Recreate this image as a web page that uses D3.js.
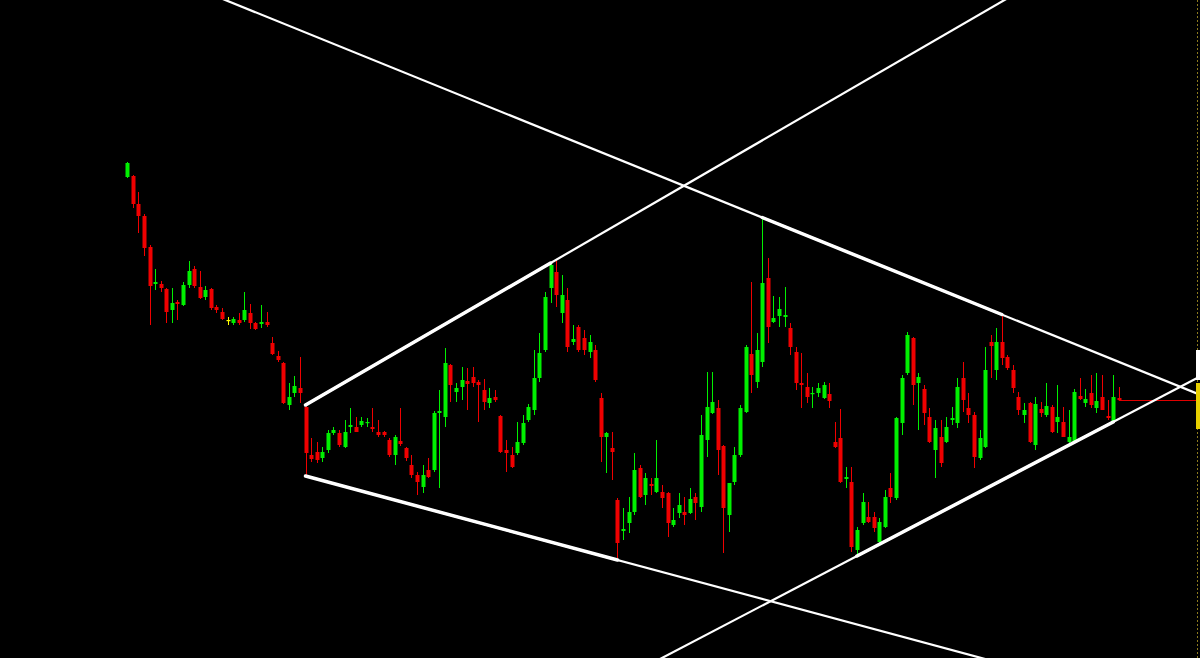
<!DOCTYPE html>
<html>
<head>
<meta charset="utf-8">
<script src="https://cdn.jsdelivr.net/npm/d3@7"></script>
<style>
html,body{margin:0;padding:0;background:#000;overflow:hidden;}
svg{display:block;}
</style>
</head>
<body>
<svg id="chart" width="1200" height="658"></svg>
<script>
// OHLC values (arbitrary price units), one entry per bar
const open  = [523,524,496,484,453,416,416,411,390,398,395,415,431,413,403,411,393,388,380,377,380,380,387,377,376,378,357,344,337,295,307,312,293,245,248,242,250,267,267,253,273,273,275,277,273,268,268,260,245,259,252,235,225,213,230,230,287,283,335,308,313,319,323,318,310,297,303,284,250,245,247,257,280,290,322,350,412,428,387,400,358,373,362,348,350,302,263,252,200,169,177,188,232,205,216,208,208,207,175,187,188,187,203,193,260,287,292,254,185,218,245,288,346,318,338,422,378,384,383,372,348,317,313,306,307,302,306,258,262,221,218,150,177,183,183,158,173,212,202,277,327,362,317,311,283,250,263,258,280,277,322,292,285,242,253,358,330,358,343,330,303,285,297,255,291,285,293,278,278,258,258,304,297,307,292,303,284,278,302];
const high  = [538,525,508,486,455,431,419,412,412,400,418,439,434,429,414,412,395,392,383,383,387,408,396,378,395,388,363,349,338,317,324,343,295,262,258,253,270,273,270,280,292,283,283,282,292,280,269,262,265,292,253,245,228,235,242,289,310,352,336,317,333,332,333,320,321,312,310,285,260,253,278,285,296,350,367,408,438,440,425,412,375,375,370,365,355,307,268,268,202,192,203,247,235,227,222,260,215,208,192,207,203,212,207,285,328,328,300,255,217,253,295,355,418,367,483,442,404,403,413,377,353,347,327,313,317,318,317,278,291,233,233,173,207,198,188,182,210,227,283,325,368,363,327,315,292,280,280,283,293,322,338,307,288,270,353,365,372,385,345,335,308,297,298,303,298,317,295,315,293,290,311,322,311,325,327,325,300,325,313];
const low   = [522,492,467,444,375,410,408,377,377,380,394,412,412,401,400,390,387,380,375,375,375,378,371,370,372,373,345,338,296,290,303,297,223,238,237,238,247,265,253,252,267,268,273,273,268,263,263,243,235,254,239,222,205,207,222,228,212,273,298,298,300,290,313,278,290,292,298,247,228,232,245,255,278,285,318,348,397,393,377,348,355,348,345,342,318,238,227,220,142,160,167,185,202,195,205,207,192,163,173,182,175,186,180,188,243,286,225,147,168,215,243,287,307,312,333,357,377,373,373,345,310,292,297,292,303,301,292,252,217,212,148,145,175,177,168,157,172,197,200,265,325,295,270,275,257,222,233,257,275,272,288,277,232,240,252,322,320,335,330,307,285,277,257,250,283,283,267,267,263,257,257,300,293,292,287,290,280,277,300];
const close = [537,496,484,452,414,418,412,388,397,396,415,429,414,402,410,392,390,381,380,381,377,390,377,371,378,375,346,340,297,303,314,307,247,241,240,248,267,270,255,268,275,268,279,278,271,265,265,245,263,256,242,225,218,225,223,287,289,337,315,312,320,316,317,315,298,302,300,248,247,233,258,277,293,322,347,403,435,405,405,353,361,350,350,358,320,263,267,248,157,171,188,230,203,222,214,222,202,177,180,195,185,201,197,265,293,298,250,192,217,245,292,353,325,350,417,373,382,391,385,353,317,315,303,307,312,315,299,253,218,223,153,170,198,178,172,178,203,203,282,322,365,315,323,287,258,272,237,273,282,313,300,285,243,262,330,354,358,342,332,312,290,290,258,296,287,294,268,283,263,263,308,301,301,295,299,290,282,303,300];

// trend lines: [index, price] anchors, drawn range [from, to] in bar index, bold part [b0, b1]
const trendAnchors = [
  {name:"upper falling", p0:[114,482.5], p1:[157,385.5], from:-60, to:260, b0:114, b1:157},
  {name:"upper rising",  p0:[32,295],    p1:[76,437],    from:32,  to:260, b0:32,  b1:76},
  {name:"lower falling", p0:[32,224],    p1:[88,140],    from:32,  to:260, b0:32,  b1:88},
  {name:"lower rising",  p0:[131,144],   p1:[177,278],   from:-60, to:260, b0:131, b1:177}
];

const W = 1200, H = 658;
const svg = d3.select("#chart");
svg.append("rect").attr("width", W).attr("height", H).attr("fill", "#000");

const n = open.length;
const idx = d3.range(n);
const x = d3.scaleLinear().domain([0, n - 1]).range([127.3, 127.3 + (n - 1) * 5.57]);
const y = d3.scaleLinear().domain([42, 700]).range([H, 0]);

svg.append("defs").append("clipPath").attr("id", "plot")
  .append("rect").attr("x", 0).attr("y", 0).attr("width", W).attr("height", H);

const colorOf = i => close[i] > open[i] ? "#00f000" : (close[i] < open[i] ? "#f00000" : "#ffff00");

const g = svg.append("g");
// wicks
g.selectAll("line.wick").data(idx).join("line")
  .attr("class", "wick")
  .attr("x1", i => Math.round(x(i)) + 0.5).attr("x2", i => Math.round(x(i)) + 0.5)
  .attr("y1", i => y(high[i])).attr("y2", i => y(low[i]))
  .attr("stroke", colorOf).attr("stroke-width", 1);
// bodies
g.selectAll("rect.body").data(idx).join("rect")
  .attr("class", "body")
  .attr("x", i => Math.round(x(i)) - 1.5)
  .attr("width", 4)
  .attr("y", i => y(Math.max(open[i], close[i])))
  .attr("height", i => Math.max(1.2, Math.abs(y(open[i]) - y(close[i]))))
  .attr("fill", colorOf);

// last price line
svg.append("line")
  .attr("x1", x(n - 1)).attr("x2", W)
  .attr("y1", Math.round(y(close[n - 1])) + 0.5).attr("y2", Math.round(y(close[n - 1])) + 0.5)
  .attr("stroke", "#e00000").attr("stroke-width", 1);

// trend lines
const priceAt = (t, k) => t.p0[1] + (t.p1[1] - t.p0[1]) * (k - t.p0[0]) / (t.p1[0] - t.p0[0]);
const tl = svg.append("g").attr("clip-path", "url(#plot)");
trendAnchors.forEach(t => {
  tl.append("line")
    .attr("x1", x(t.from)).attr("y1", y(priceAt(t, t.from)))
    .attr("x2", x(t.to)).attr("y2", y(priceAt(t, t.to)))
    .attr("stroke", "#ffffff").attr("stroke-width", 2.2);
  tl.append("line")
    .attr("x1", x(t.b0)).attr("y1", y(priceAt(t, t.b0)))
    .attr("x2", x(t.b1)).attr("y2", y(priceAt(t, t.b1)))
    .attr("stroke", "#ffffff").attr("stroke-width", 3.5).attr("stroke-linecap", "round");
});

// right edge price-scale remnants
svg.append("line").attr("x1", 1197.5).attr("x2", 1197.5).attr("y1", 0).attr("y2", H)
  .attr("stroke", "#8c7a1e").attr("stroke-width", 1).attr("stroke-dasharray", "2,2");
svg.append("rect").attr("x", 1196).attr("y", y(350)).attr("width", 4).attr("height", 30).attr("fill", "#ffffff");
svg.append("rect").attr("x", 1196).attr("y", y(317)).attr("width", 4).attr("height", 46).attr("fill", "#e8d000");
</script>
</body>
</html>
